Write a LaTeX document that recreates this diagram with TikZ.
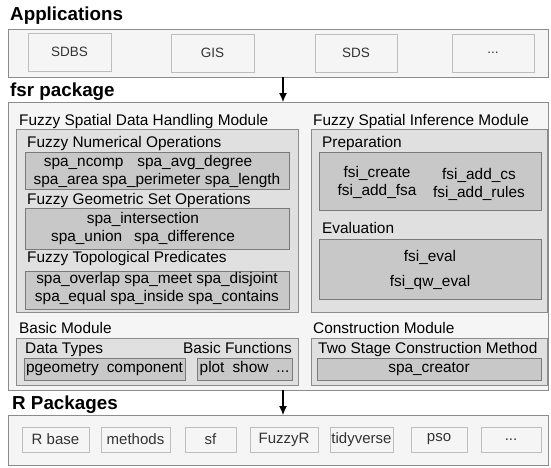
\documentclass[tikz,border=0pt]{standalone}
\usepackage{fontspec}
\setmainfont{Liberation Sans}
\usetikzlibrary{arrows.meta}

\definecolor{layerfill}{HTML}{F5F5F5}
\definecolor{layerline}{HTML}{8C8C8C}
\definecolor{modfill}{HTML}{E0E0E0}
\definecolor{modline}{HTML}{8C8C8C}
\definecolor{groupfill}{HTML}{C8C8C8}
\definecolor{groupline}{HTML}{7A7A7A}
\definecolor{itemline}{HTML}{BDBDBD}
\definecolor{itemtext}{HTML}{333333}

\begin{document}
\begin{tikzpicture}[x=1pt, y=-1pt,
  box/.style={anchor=north west, inner sep=0pt, outer sep=0pt},
  layer/.style={box, draw=layerline, fill=layerfill},
  module/.style={box, draw=modline, fill=modfill},
  group/.style={box, draw=groupline, fill=groupfill, font=\fontsize{15.4}{18}\selectfont},
  item/.style={box, draw=itemline, fill=layerfill, text=itemtext, font=\fontsize{13.5}{16}\selectfont},
  pkg/.style={item, font=\fontsize{15}{18}\selectfont},
  heading/.style={anchor=base west, inner sep=0pt, font=\fontsize{18.8}{20}\selectfont\bfseries},
  caption/.style={anchor=base west, inner sep=0pt, font=\fontsize{15.4}{18}\selectfont},
  entries/.style={align=center, inner sep=0pt, font=\fontsize{15.4}{18}\selectfont},
]

\fill[white] (0,0) rectangle (551,467);
\useasboundingbox (0,0) rectangle (551,467);

% applications layer
\node[heading] (appstitle) at (10,20) {Applications};
\node[layer, minimum width=540pt, minimum height=48pt] (apps) at (8,29) {};
\node[item, minimum width=83pt, minimum height=38pt] (sdbs) at (28,33) {SDBS};
\node[item, minimum width=83pt, minimum height=38pt] (gis) at (171,34) {GIS};
\node[item, minimum width=82pt, minimum height=38pt] (sds) at (315,34) {SDS};
\node[item, minimum width=82pt, minimum height=38pt] (moreapps) at (452,34) {...};

% fsr package
\node[heading] (fsrtitle) at (10,96) {fsr package};
\node[layer, minimum width=540pt, minimum height=288pt] (fsr) at (8,102) {};

% data handling module
\node[module, minimum width=282pt, minimum height=183pt] (handling) at (16,129) {};
\node[caption] (handlingtitle) at (19,125.5) {Fuzzy Spatial Data Handling Module};
\node[caption] (numtitle) at (27,147.5) {Fuzzy Numerical Operations};
\node[group, minimum width=264pt, minimum height=37pt] (num) at (25,152) {};
\node[entries] (numops) at (157,171.5)
  {spa\_ncomp\hspace{14pt}spa\_avg\_degree\hspace*{18pt}\\spa\_area spa\_perimeter spa\_length};
\node[caption] (geotitle) at (27,204.5) {Fuzzy Geometric Set Operations};
\node[group, minimum width=264pt, minimum height=41pt] (geo) at (25,208) {};
\node[entries] (geoops) at (143,229)
  {spa\_intersection\\spa\_union\hspace{12pt}spa\_difference};
\node[caption] (topotitle) at (27,262.5) {Fuzzy Topological Predicates};
\node[group, minimum width=264pt, minimum height=38pt] (topo) at (25,271) {};
\node[entries] (topoops) at (157,289)
  {spa\_overlap spa\_meet spa\_disjoint\\spa\_equal spa\_inside spa\_contains};

% inference module
\node[module, minimum width=236pt, minimum height=183pt] (inference) at (311,129) {};
\node[caption] (inferencetitle) at (313,125.5) {Fuzzy Spatial Inference Module};
\node[caption] (preptitle) at (322,147.5) {Preparation};
\node[group, minimum width=222pt, minimum height=58pt] (prep) at (319,152) {};
\node[entries] (prepleft) at (377,182) {fsi\_create\\fsi\_add\_fsa};
\node[entries] (prepright) at (479,184) {fsi\_add\_cs\\fsi\_add\_rules};
\node[caption] (evaltitle) at (322,233.5) {Evaluation};
\node[group, minimum width=222pt, minimum height=60pt] (eval) at (319,239) {};
\node[entries, font=\fontsize{15.4}{25}\selectfont] (evalops) at (430,270) {fsi\_eval\\fsi\_qw\_eval};

% basic module
\node[caption] (basictitle) at (19,333) {Basic Module};
\node[module, minimum width=282pt, minimum height=47pt] (basic) at (16,338) {};
\node[caption] (typestitle) at (25,353) {Data Types};
\node[caption, anchor=base east] (functitle) at (292,353) {Basic Functions};
\node[group, minimum width=161pt, minimum height=22pt] (types) at (24,358) {pgeometry\hspace{8pt}component};
\node[group, minimum width=95pt, minimum height=22pt] (funcs) at (197,358) {plot\hspace{8pt}show\hspace{8pt}...};

% construction module
\node[caption] (constrtitle) at (313,333) {Construction Module};
\node[module, minimum width=236pt, minimum height=47pt] (constr) at (311,338) {};
\node[caption] (methodtitle) at (318,353) {Two Stage Construction Method};
\node[group, minimum width=224pt, minimum height=22pt] (creator) at (317,358) {spa\_creator};

% R packages layer
\node[heading] (rtitle) at (12,409) {R Packages};
\node[layer, minimum width=540pt, minimum height=50pt] (rpkgs) at (8,415) {};
\node[pkg, minimum width=67pt, minimum height=25pt] (rbase) at (22,427) {R base};
\node[pkg, minimum width=69pt, minimum height=25pt] (methods) at (101,427) {methods};
\node[pkg, minimum width=51pt, minimum height=25pt] (sf) at (185,427) {sf};
\node[pkg, minimum width=68pt, minimum height=25pt] (fuzzyr) at (250,427) {FuzzyR};
\node[pkg, minimum width=63pt, minimum height=25pt] (tidyverse) at (330,427) {tidyverse};
\node[pkg, minimum width=56pt, minimum height=25pt] (pso) at (411,427) {pso};
\node[pkg, minimum width=60pt, minimum height=25pt] (morepkgs) at (481,427) {...};

% dependencies between the layers
\coordinate (drop) at (283,0);
\draw[line width=1.2pt, ->, >={Latex[length=9pt, width=8pt]}] (apps.south -| drop) -- (fsr.north -| drop);
\draw[line width=1.2pt, ->, >={Latex[length=9pt, width=8pt]}] (fsr.south -| drop) -- (rpkgs.north -| drop);

\end{tikzpicture}
\end{document}
